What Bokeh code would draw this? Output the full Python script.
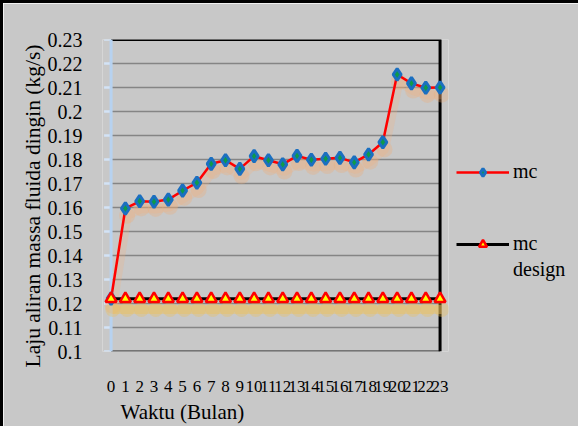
from bokeh.plotting import figure
from bokeh.models import Range1d, FixedTicker, Title, Legend, LegendItem
from bokeh.embed import file_html
from bokeh.resources import INLINE

months = list(range(24))
month_labels = [str(m) for m in months]
mc = [0.122, 0.1596, 0.1626, 0.1624, 0.1633, 0.167, 0.1703, 0.1782, 0.1797, 0.1761,
      0.1814, 0.1797, 0.178, 0.1815, 0.1799, 0.1803, 0.1807, 0.1788, 0.1821, 0.1872,
      0.2154, 0.2117, 0.2099, 0.210]
mc_design = [0.122, 0.122, 0.122, 0.122, 0.122, 0.122, 0.122, 0.122, 0.122, 0.122,
             0.122, 0.122, 0.122, 0.122, 0.122, 0.122, 0.122, 0.122, 0.122, 0.122,
             0.122, 0.122, 0.122, 0.122]
y_ticks = [0.1, 0.11, 0.12, 0.13, 0.14, 0.15, 0.16, 0.17, 0.18, 0.19, 0.2, 0.21, 0.22, 0.23]
y_tick_labels = ["0.1", "0.11", "0.12", "0.13", "0.14", "0.15", "0.16", "0.17", "0.18",
                 "0.19", "0.2", "0.21", "0.22", "0.23"]

FONT = "Liberation Serif"
BG = "#c8c8c8"

p = figure(output_backend="svg", toolbar_location=None,
           x_range=Range1d(-0.6, 23.59), y_range=Range1d(y_ticks[0], y_ticks[-1]),
           frame_width=346, frame_height=312,
           min_border_left=99, min_border_right=112, min_border_top=36, min_border_bottom=64,
           background_fill_color=BG, border_fill_color=BG, outline_line_color=None,
           styles={"border-top": "3px solid black", "border-left": "3px solid black"})
p.xgrid.visible = False
p.ygrid.visible = False

x0, x1 = months[0], months[-1]
# horizontal gridlines limited to the plot area
for t in y_ticks[1:-1]:
    p.line([x0, x1], [t, t], line_color="#858585", line_width=1.5)
p.line([x0, x1], [y_ticks[0], y_ticks[0]], line_color="#5a5a5a", line_width=2.5)
p.line([x0, x1, x1], [y_ticks[-1], y_ticks[-1], y_ticks[0]], line_color="black", line_width=3)
# y axis line and outward ticks at month 0
p.segment(x0=[x0 - 0.49] * len(y_ticks), y0=y_ticks, x1=[x0] * len(y_ticks), y1=y_ticks,
          line_color="#d3e3f6", line_width=2.5)
p.line([x0, x0], [y_ticks[0], y_ticks[-1]], line_color="#b7d2f0", line_width=3)

# glow shadows
sh_mc = [v - 0.003 for v in mc]
sh_x = [m + 0.12 for m in months]
p.line(sh_x, sh_mc, line_color="#f2b07a", line_width=9, line_alpha=0.25)
p.scatter(sh_x, sh_mc, size=16, color="#f2ad75", alpha=0.3, line_color=None)
sh_d = [v - 0.0045 for v in mc_design]
p.line(sh_x, sh_d, line_color="#ecc262", line_width=9, line_alpha=0.45)
p.scatter(sh_x, sh_d, size=15, color="#efbf55", alpha=0.35, line_color=None)

r_mc_line = p.line(months, mc, line_color="#ff0000", line_width=2.5)
r_mc_pts = p.scatter(months, mc, marker="diamond", size=12, fill_color="#0f9a4a",
                     line_color="#1b6fc0", line_width=3)
r_d_line = p.line(months, mc_design, line_color="black", line_width=3)
r_d_pts = p.scatter(months, mc_design, marker="triangle", size=11, fill_color="#ffff00",
                    line_color="#ff0000", line_width=2.5)
r_blank = p.line(x=[], y=[], line_alpha=0)

# axes
p.xaxis.ticker = FixedTicker(ticks=months)
p.xaxis.major_label_overrides = {m: l for m, l in zip(months, month_labels)}
p.xaxis.axis_line_color = None
p.xaxis.major_tick_line_color = None
p.xaxis.minor_tick_line_color = None
p.xaxis.major_label_standoff = 23
p.xaxis.major_label_text_font = FONT
p.xaxis.major_label_text_font_size = "17px"
p.xaxis.major_label_text_color = "black"

p.yaxis.ticker = FixedTicker(ticks=y_ticks)
p.yaxis.major_label_overrides = {t: l for t, l in zip(y_ticks, y_tick_labels)}
p.yaxis.axis_line_color = None
p.yaxis.major_tick_line_color = None
p.yaxis.minor_tick_line_color = None
p.yaxis.major_label_standoff = 14
p.yaxis.major_label_text_font = FONT
p.yaxis.major_label_text_font_size = "20px"
p.yaxis.major_label_text_color = "black"

p.add_layout(Title(text="Laju aliran massa fluida dingin (kg/s)", align="left",
                   offset=-16, standoff=0,
                   text_font=FONT, text_font_size="21.5px", text_font_style="normal",
                   text_color="black"), "left")
p.add_layout(Title(text="Waktu (Bulan)", align="left", offset=18, standoff=6,
                   text_font=FONT, text_font_size="21px", text_font_style="normal",
                   text_color="black"), "below")

legend = Legend(items=[LegendItem(label="mc", renderers=[r_mc_line, r_mc_pts]),
                       LegendItem(label=" ", renderers=[r_blank]),
                       LegendItem(label=" ", renderers=[r_blank]),
                       LegendItem(label="mc", renderers=[r_d_line, r_d_pts]),
                       LegendItem(label="design", renderers=[r_blank])],
                location=(8, 70), background_fill_alpha=0, border_line_color=None,
                label_text_font=FONT, label_text_font_size="20px", label_text_color="black",
                glyph_width=53, glyph_height=20, label_standoff=4, spacing=3,
                label_height=20, padding=0, margin=0)
p.add_layout(legend, "right")

open("out.html", "w").write(file_html(p, INLINE))
